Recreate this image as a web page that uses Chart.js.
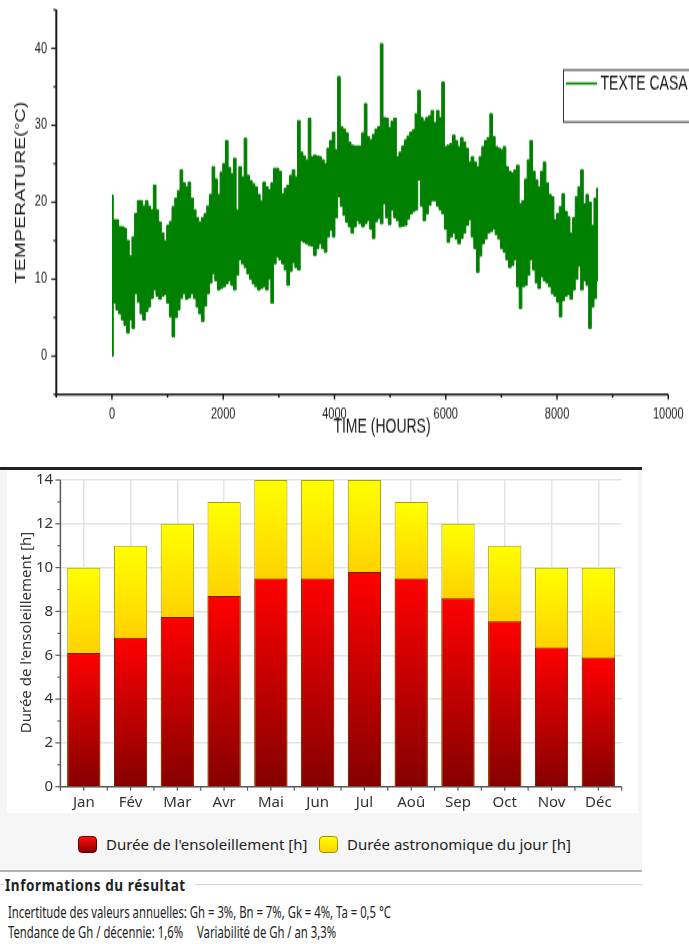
<!DOCTYPE html>
<html>
<head>
<meta charset="utf-8">
<script src="https://cdn.jsdelivr.net/npm/chart.js@4.4.1/dist/chart.umd.min.js"></script>
<style>
  html, body { margin: 0; padding: 0; background: #fff; }
  body { width: 689px; height: 944px; position: relative; overflow: hidden; font-family: "Noto Sans", sans-serif; }
  #tempWrap { position: absolute; left: 0; top: 0; width: 689px; height: 318px; transform: scaleY(1.4); transform-origin: 0 0; }
  #tempChart { display: block; }
  .abs { position: absolute; }
  #sunRule { left: 0; top: 467px; width: 642px; height: 2.5px; background: #222; }
  #sunPanel { left: 0; top: 469.5px; width: 642px; height: 400.5px; background: #f6f6f6; }
  #sunBox { left: 7px; top: 469.5px; width: 631px; height: 343.5px; background: #fff; }
  #sunChart { position: absolute; left: 0; top: 470px; }
  .sw { position: absolute; top: 836px; width: 19px; height: 17px; border-radius: 4px; box-sizing: border-box; }
  #swSun { left: 78px; background: linear-gradient(#ff1010, #8a0000); border: 1px solid #6a0000; }
  #swDay { left: 319px; background: linear-gradient(#ffff00, #ffd000); border: 1px solid #a09600; }
  .lg { position: absolute; top: 834px; line-height: 20px; font-size: 15px; color: #222; white-space: nowrap; }
  #lgSun { left: 106px; }
  #lgDay { left: 347px; }
  #infoRule { left: 0; top: 870px; width: 642px; height: 2px; background: #b4b4b4; }
  #headRuleL { left: 0; top: 883.5px; width: 4px; height: 1px; background: #cdd6de; }
  #headRule { left: 195px; top: 883.5px; width: 447px; height: 1px; background: #cdd6de; }
  .info { position: absolute; left: 8px; line-height: 14px; font-size: 11.3px; color: #222; white-space: nowrap; transform: scaleY(1.45); transform-origin: 0 50%; }
  #infoHead { left: 5px; top: 877.5px; font-weight: bold; font-size: 13.5px; letter-spacing: 0.6px; transform: scaleY(1.15); }
  #info1 { top: 905px; }
  #info2 { top: 925px; }
</style>
</head>
<body>
<div id="tempWrap"><canvas id="tempChart" width="689" height="318"></canvas></div>

<div id="sunRule" class="abs"></div>
<div id="sunPanel" class="abs"></div>
<div id="sunBox" class="abs"></div>
<canvas id="sunChart" width="642" height="345"></canvas>
<div id="swSun" class="sw"></div><div id="lgSun" class="lg">Durée de l'ensoleillement [h]</div>
<div id="swDay" class="sw"></div><div id="lgDay" class="lg">Durée astronomique du jour [h]</div>

<div id="infoRule" class="abs"></div>
<div id="headRuleL" class="abs"></div>
<div id="headRule" class="abs"></div>
<div id="infoHead" class="info">Informations du résultat</div>
<div id="info1" class="info">Incertitude des valeurs annuelles: Gh = 3%, Bn = 7%, Gk = 4%, Ta = 0,5 °C</div>
<div id="info2" class="info">Tendance de Gh / décennie: 1,6%<span style="margin-left:14px">Variabilité de Gh / an 3,3%</span></div>

<script>
// ---- Hourly temperature record: upper / lower envelope every 48 h ----
const HOUR_STEP = 48;
const tempHigh = [
  20.9, 17.7, 17.7, 16.8, 16.8, 16.6, 15, 13, 15.5, 18.5,
  20.2, 20.2, 19.5, 20.2, 19.5, 19, 22.2, 19, 17.4, 16,
  15, 17, 17.5, 19.4, 20.5, 21.5, 24.2, 22.5, 22, 22.6,
  20.5, 19, 18, 17.4, 18, 18.5, 19.5, 21, 24.6, 23,
  21, 23.9, 25, 28, 24.5, 23.7, 25.7, 19, 24.6, 23.3,
  28.3, 23.5, 22.8, 22.4, 22, 21, 20.2, 22.6, 22, 21.6,
  22.5, 24.4, 24.4, 24, 21.1, 21.8, 22.2, 23.5, 24.2, 23.3,
  30.6, 26.5, 26, 25.5, 30.9, 25.9, 26.1, 26, 25.9, 25.5,
  25, 27, 28, 29.1, 26.8, 36.3, 29.8, 29.5, 29, 27.8,
  27.4, 27.3, 27.3, 27.3, 29, 32.8, 28.5, 28.1, 28.8, 29.5,
  29.8, 40.6, 31, 30.9, 29.7, 30.5, 30.9, 25.9, 26.5, 27.3,
  28.1, 28.6, 29.1, 29.4, 31.5, 34.5, 31, 30.6, 31, 31.2,
  31.9, 30.3, 31.9, 31, 35.6, 27.2, 27.4, 27.6, 28.7, 28,
  27.2, 28.4, 27.8, 27, 25.2, 25.9, 25.2, 24.6, 25.9, 27.2,
  28, 28.4, 31.5, 28.5, 27.2, 27, 26.8, 27.2, 24.6, 24,
  23.8, 24.2, 24.8, 19.8, 20.2, 23, 25.5, 28, 24, 22.9,
  22, 24, 25.2, 22.5, 21, 20.7, 17.7, 18.5, 19.4, 21.1,
  18.8, 18.1, 16, 18, 20.7, 22, 24.2, 19.8, 21, 20,
  17, 20.5, 21.8
];
const tempLow = [
  0, 6.9, 6, 5.5, 4.7, 4, 3, 4.7, 3.6, 8.1,
  7, 5.5, 4.7, 5.8, 6.4, 7.5, 8.6, 7.8, 7.4, 7.8,
  8, 6.9, 5.1, 2.5, 5, 6, 7.5, 8.1, 7.4, 7.6,
  8.1, 7.5, 6.4, 5.5, 4.5, 6.5, 8.1, 9.5, 10.7, 9.8,
  8.6, 8.8, 9, 9.4, 9.8, 9.2, 8.6, 10.5, 12.5, 12,
  11.5, 10.7, 10, 9.4, 9, 8.6, 8.8, 9, 8.6, 10,
  6.9, 12, 12.9, 12.5, 12, 11.2, 9.2, 11, 12.1, 11.5,
  11.2, 15, 14.8, 14.6, 14.4, 14.3, 13.1, 14, 14.6, 14,
  13.5, 15.5, 16.4, 15.5, 18, 20.7, 19.5, 18.3, 17.4, 16.8,
  16, 16.8, 17.6, 17.2, 16.8, 17.2, 17.6, 16.5, 15.3, 17.5,
  17.9, 17.2, 19.8, 18, 17.1, 19, 18, 17.6, 16.8, 16.9,
  17, 17.8, 18.5, 18.8, 19, 22.9, 19.5, 17.6, 18.5, 19.6,
  20.2, 20.2, 19.5, 19, 18.5, 16.5, 14.8, 15.5, 16, 15.2,
  14.6, 15.3, 16, 17, 17.7, 15.5, 14, 10.9, 13, 14.6,
  15.2, 16, 16.2, 16.5, 15.8, 15.2, 14, 13.5, 12.5, 11.5,
  11.8, 12.5, 9, 6.2, 9, 9.2, 10.5, 12.5, 11.2, 9.5,
  8.8, 10.3, 9.8, 9.5, 9, 8.1, 7.8, 7, 5.1, 7.2,
  7.8, 8, 7.4, 8.6, 10, 11.7, 8.6, 9.8, 9.2, 3.6,
  6.4, 7.5, 9.8
];
const hourMarks = tempHigh.map((_, i) => i * HOUR_STEP);
const seriesName = 'TEXTE CASA';
const timeTicks = [0, 2000, 4000, 6000, 8000, 10000];
const timeMinorTicks = [-1000, 1000, 3000, 5000, 7000, 9000];
const tempTicks = [0, 10, 20, 30, 40];
const tempMinorTicks = [-5, 5, 15, 25, 35, 45];

// ---- Monthly sunshine duration vs astronomical day length ----
const months = ['Jan', 'Fév', 'Mar', 'Avr', 'Mai', 'Jun', 'Jul', 'Aoû', 'Sep', 'Oct', 'Nov', 'Déc'];
const sunshineHours = [6.1, 6.8, 7.75, 8.7, 9.5, 9.5, 9.8, 9.5, 8.6, 7.55, 6.35, 5.9];
const dayLengthHours = [10, 11, 12, 13, 14, 14, 14, 13, 12, 11, 10, 10];
const hourTicks = [0, 2, 4, 6, 8, 10, 12, 14];
const hourMinorTicks = [1, 3, 5, 7, 9, 11, 13];
const sunLabel = "Durée de l'ensoleillement [h]";
const dayLabel = 'Durée astronomique du jour [h]';

// keep the plot area exactly where the layout puts it (no label overhang padding)
function noOverhang(s) {
  s.paddingTop = 0; s.paddingBottom = 0; s.paddingLeft = 0; s.paddingRight = 0;
}

// Axes, tick marks, titles and legend box of the temperature plot
const tempFrame = {
  id: 'tempFrame',
  afterDraw(chart) {
    const { ctx, chartArea: a, scales: { x, y } } = chart;
    ctx.save();
    ctx.strokeStyle = '#1a1a1a';
    ctx.lineWidth = 1.4;
    ctx.beginPath(); ctx.moveTo(a.left - 1, a.bottom); ctx.lineTo(a.right, a.bottom); ctx.stroke();
    ctx.lineWidth = 2;
    ctx.beginPath(); ctx.moveTo(a.left, a.top); ctx.lineTo(a.left, a.bottom + 0.7); ctx.stroke();

    ctx.lineWidth = 1.5;
    const tickX = (v, len) => {
      const px = x.getPixelForValue(v);
      ctx.beginPath(); ctx.moveTo(px, a.bottom); ctx.lineTo(px, a.bottom + len); ctx.stroke();
    };
    timeTicks.forEach(v => tickX(v, 3.6));
    timeMinorTicks.forEach(v => tickX(v, 2.2));
    ctx.lineWidth = 1.1;
    const tickY = (v, len) => {
      const py = y.getPixelForValue(v);
      ctx.beginPath(); ctx.moveTo(a.left, py); ctx.lineTo(a.left - len, py); ctx.stroke();
    };
    tempTicks.forEach(v => tickY(v, 5));
    tempMinorTicks.forEach(v => tickY(v, 3));

    ctx.fillStyle = '#1a1a1a';
    ctx.font = '14px "Liberation Sans", Arial, sans-serif';
    ctx.textAlign = 'center';
    ctx.textBaseline = 'middle';
    ctx.fillText('TIME (HOURS)', 382, 305);
    ctx.save();
    ctx.translate(21, 137.5);
    ctx.rotate(-Math.PI / 2);
    ctx.fillText('TEMPERATURE(°C)', 0, 0);
    ctx.restore();

    ctx.strokeStyle = '#333';
    ctx.lineWidth = 1;
    ctx.strokeRect(563.5, 50, 140, 37.1);
    ctx.strokeStyle = '#008000';
    ctx.lineWidth = 1.6;
    ctx.beginPath(); ctx.moveTo(566, 59.6); ctx.lineTo(597, 59.6); ctx.stroke();
    ctx.textAlign = 'left';
    ctx.fillStyle = '#111';
    ctx.fillText(seriesName, 600.5, 59.8);
    ctx.restore();
  }
};

new Chart(document.getElementById('tempChart'), {
  type: 'line',
  data: {
    datasets: [
      {
        label: seriesName,
        data: hourMarks.map((h, i) => ({ x: h, y: tempHigh[i] })),
        borderColor: '#008000', backgroundColor: '#008000',
        borderWidth: 1, pointRadius: 0, stepped: 'middle', fill: '+1'
      },
      {
        label: seriesName + ' min',
        data: hourMarks.map((h, i) => ({ x: h, y: tempLow[i] })),
        borderColor: '#008000', backgroundColor: '#008000',
        borderWidth: 1, pointRadius: 0, stepped: 'middle', fill: false
      }
    ]
  },
  options: {
    responsive: false,
    animation: false,
    devicePixelRatio: 1,
    layout: { padding: { top: 7, right: 20.7, left: 0, bottom: 0 } },
    plugins: { legend: { display: false }, tooltip: { enabled: false } },
    scales: {
      x: {
        type: 'linear', min: -1000, max: 10000,
        afterBuildTicks: s => { s.ticks = timeTicks.map(v => ({ value: v })); },
        afterFit: s => { s.height = 36.2; noOverhang(s); },
        grid: { display: false, drawTicks: false },
        border: { display: false },
        ticks: {
          callback: v => String(v), autoSkip: false, maxRotation: 0,
          font: { family: '"Liberation Sans", Arial, sans-serif', size: 11 },
          color: '#1a1a1a', padding: 7.3
        }
      },
      y: {
        type: 'linear', min: -5, max: 45,
        afterBuildTicks: s => { s.ticks = tempTicks.map(v => ({ value: v })); },
        afterFit: s => { s.width = 56.3; noOverhang(s); },
        grid: { display: false, drawTicks: false },
        border: { display: false },
        ticks: {
          callback: v => String(v),
          font: { family: '"Liberation Sans", Arial, sans-serif', size: 11 },
          color: '#1a1a1a', padding: 9.3
        }
      }
    }
  },
  plugins: [tempFrame]
});

// Vertical gradient spanning one bar segment
function segmentGradient(ctx, fromArr, toArr, bottomColor, topColor) {
  const chart = ctx.chart;
  const y = chart.scales.y;
  const i = ctx.dataIndex;
  if (!chart.chartArea || !y || i === undefined) return topColor;
  const y0 = y.getPixelForValue(fromArr ? fromArr[i] : 0);
  const y1 = y.getPixelForValue(toArr[i]);
  if (!isFinite(y0) || !isFinite(y1) || y0 === y1) return topColor;
  const g = chart.ctx.createLinearGradient(0, y0, 0, y1);
  g.addColorStop(0, bottomColor);
  g.addColorStop(1, topColor);
  return g;
}

// Axes, tick marks and axis title of the sunshine plot
const sunFrame = {
  id: 'sunFrame',
  afterDatasetsDraw(chart) {
    const { ctx, chartArea: a, scales: { x, y } } = chart;
    ctx.save();
    ctx.strokeStyle = '#5a5a5a';
    ctx.lineWidth = 1.5;
    ctx.beginPath();
    ctx.moveTo(a.left, a.top); ctx.lineTo(a.left, a.bottom); ctx.lineTo(a.right, a.bottom);
    ctx.stroke();
    ctx.lineWidth = 1.2;
    const tickY = (v, len) => {
      const py = y.getPixelForValue(v);
      ctx.beginPath(); ctx.moveTo(a.left, py); ctx.lineTo(a.left - len, py); ctx.stroke();
    };
    hourTicks.forEach(v => tickY(v, 5));
    hourMinorTicks.forEach(v => tickY(v, 3));
    const half = (x.getPixelForValue(1) - x.getPixelForValue(0)) / 2;
    const tickX = px => { ctx.beginPath(); ctx.moveTo(px, a.bottom); ctx.lineTo(px, a.bottom + 4); ctx.stroke(); };
    months.forEach((m, i) => {
      const cx = x.getPixelForValue(i);
      tickX(cx - half); tickX(cx);
      if (i === months.length - 1) tickX(cx + half);
    });
    ctx.fillStyle = '#333';
    ctx.font = '15px "Noto Sans", sans-serif';
    ctx.textAlign = 'center';
    ctx.textBaseline = 'middle';
    ctx.translate(26.7, 162.5);
    ctx.rotate(-Math.PI / 2);
    ctx.fillText(sunLabel, 0, 0);
    ctx.restore();
  }
};

const sunFont = { family: '"Noto Sans", sans-serif', size: 15 };
new Chart(document.getElementById('sunChart'), {
  type: 'bar',
  data: {
    labels: months,
    datasets: [
      {
        label: sunLabel,
        data: sunshineHours,
        order: 0,
        backgroundColor: c => segmentGradient(c, null, sunshineHours, '#850000', '#ff0000'),
        borderColor: '#7a1a00',
        borderWidth: 1
      },
      {
        label: dayLabel,
        data: dayLengthHours,
        order: 1,
        backgroundColor: c => segmentGradient(c, sunshineHours, dayLengthHours, '#ffd200', '#ffff00'),
        borderColor: '#a89c00',
        borderWidth: 1
      }
    ]
  },
  options: {
    responsive: false,
    animation: false,
    devicePixelRatio: 1,
    layout: { padding: { top: 10, right: 20.3, left: 0, bottom: 0 } },
    datasets: { bar: { grouped: false, barPercentage: 0.71, categoryPercentage: 1 } },
    plugins: { legend: { display: false }, tooltip: { enabled: false } },
    scales: {
      x: {
        afterFit: s => { s.height = 28.3; noOverhang(s); },
        grid: { offset: false, color: '#e3e3e3', lineWidth: 1.5, drawTicks: false },
        border: { display: false },
        ticks: { font: sunFont, color: '#333', padding: 7, autoSkip: false, maxRotation: 0 }
      },
      y: {
        min: 0, max: 14,
        afterBuildTicks: s => { s.ticks = hourTicks.map(v => ({ value: v })); },
        afterFit: s => { s.width = 60.4; noOverhang(s); },
        grid: { color: '#e3e3e3', lineWidth: 1.5, drawTicks: false },
        border: { display: false },
        ticks: { font: sunFont, color: '#333', padding: 7.3 }
      }
    }
  },
  plugins: [sunFrame]
});
</script>
</body>
</html>
